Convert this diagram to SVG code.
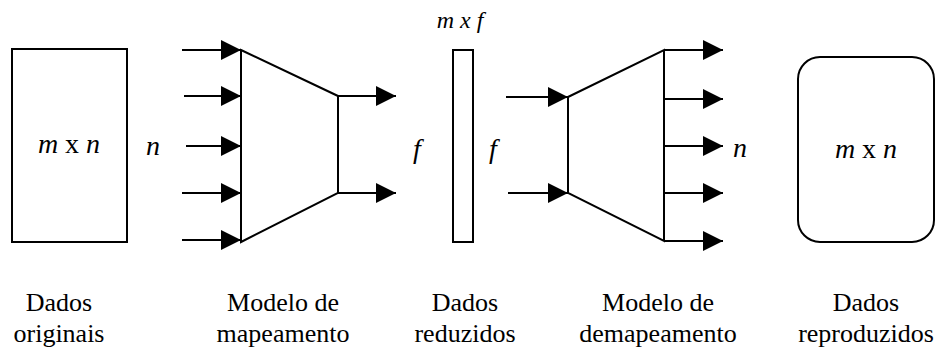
<svg xmlns="http://www.w3.org/2000/svg" width="948" height="352" viewBox="0 0 948 352">
<style>
.s{fill:none;stroke:#000;stroke-width:2}
.c{stroke:#000;stroke-width:2;fill:none}
.m{font-style:italic;font-size:28px;fill:#000}
.u{font-style:normal}
.l{font-size:26px;fill:#000;text-anchor:middle}
</style>
<defs>
<marker id="ah" markerUnits="userSpaceOnUse" markerWidth="20" markerHeight="20" refX="20" refY="10" orient="auto">
<path d="M0,0 L20,10 L0,20 Z" fill="#000"/>
</marker>
</defs>
<rect width="948" height="352" fill="#fff"/>
<g font-family="'Liberation Serif', 'Times New Roman', serif">
<g id="dados-originais">
<rect class="s" x="12" y="49" width="115" height="193"/>
<text class="m" x="69" y="153" text-anchor="middle">m <tspan class="u">x</tspan> n</text>
<text class="l" x="59" y="311">Dados</text>
<text class="l" x="59" y="342">originais</text>
</g>
<text class="m" x="146" y="155">n</text>
<g id="modelo-mapeamento">
<path class="s" d="M241,50 L338,96 L338,193 L241,242 Z"/>
<text class="l" x="283" y="311">Modelo de</text>
<text class="l" x="283" y="342">mapeamento</text>
</g>
<g id="dados-reduzidos">
<rect class="s" x="453" y="50" width="20" height="192"/>
<text class="m" x="460" y="28" text-anchor="middle" style="font-size:24px">m x f</text>
<text class="l" x="465" y="311">Dados</text>
<text class="l" x="465" y="342">reduzidos</text>
</g>
<text class="m" x="413" y="158">f</text>
<text class="m" x="489" y="158">f</text>
<g id="modelo-demapeamento">
<path class="s" d="M568,97 L664,50 L664,241 L568,193 Z"/>
<text class="l" x="658" y="311">Modelo de</text>
<text class="l" x="658" y="342">demapeamento</text>
</g>
<text class="m" x="733" y="157">n</text>
<g id="dados-reproduzidos">
<rect class="s" x="798" y="57" width="136" height="185" rx="22" ry="22"/>
<text class="m" x="866" y="158" text-anchor="middle">m <tspan class="u">x</tspan> n</text>
<text class="l" x="866" y="311">Dados</text>
<text class="l" x="866" y="342">reproduzidos</text>
</g>
</g>
<g id="connectors">
<line class="c" x1="182" y1="50" x2="241" y2="50" marker-end="url(#ah)"/>
<line class="c" x1="184" y1="96" x2="241" y2="96" marker-end="url(#ah)"/>
<line class="c" x1="186" y1="146" x2="241" y2="146" marker-end="url(#ah)"/>
<line class="c" x1="182" y1="193" x2="241" y2="193" marker-end="url(#ah)"/>
<line class="c" x1="182" y1="240" x2="241" y2="240" marker-end="url(#ah)"/>
<line class="c" x1="338" y1="96" x2="396" y2="96" marker-end="url(#ah)"/>
<line class="c" x1="338" y1="193" x2="396" y2="193" marker-end="url(#ah)"/>
<line class="c" x1="506" y1="97" x2="568" y2="97" marker-end="url(#ah)"/>
<line class="c" x1="508" y1="193" x2="568" y2="193" marker-end="url(#ah)"/>
<line class="c" x1="664" y1="50" x2="723" y2="50" marker-end="url(#ah)"/>
<line class="c" x1="664" y1="99" x2="723" y2="99" marker-end="url(#ah)"/>
<line class="c" x1="664" y1="146" x2="723" y2="146" marker-end="url(#ah)"/>
<line class="c" x1="664" y1="193" x2="723" y2="193" marker-end="url(#ah)"/>
<line class="c" x1="664" y1="241" x2="723" y2="241" marker-end="url(#ah)"/>
</g>
</svg>
